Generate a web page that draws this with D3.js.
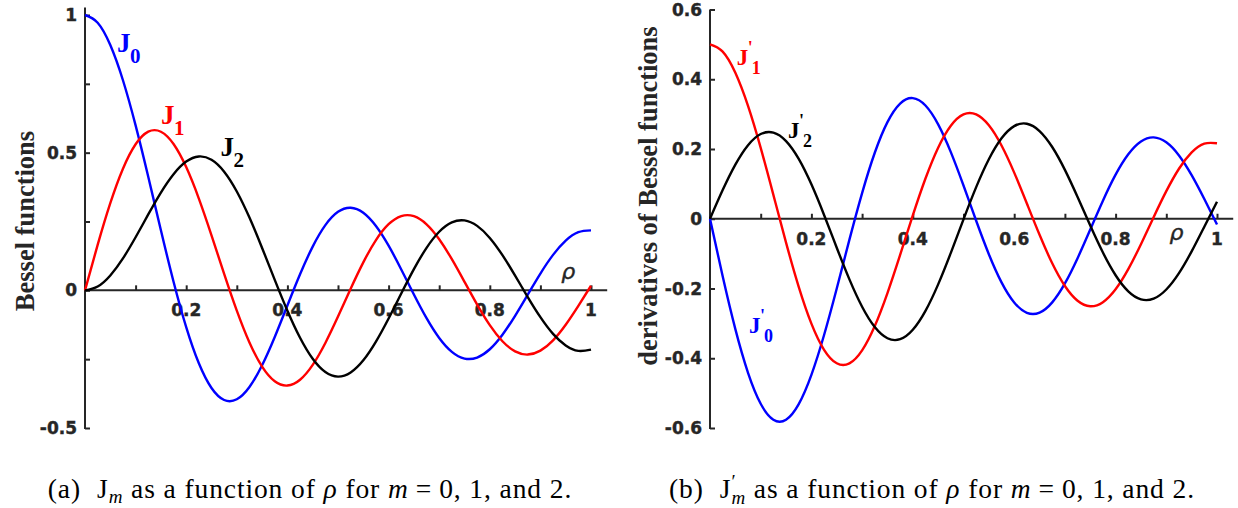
<!DOCTYPE html>
<html>
<head>
<meta charset="utf-8">
<style>
  body { margin: 0; background: #fff; }
</style>
</head>
<body>
<svg width="1238" height="508"></svg>
<script src="https://cdn.jsdelivr.net/npm/d3@7/dist/d3.min.js"></script>
<script>
// sample positions along rho (step 0.025)
var rho = [0, 0.025, 0.05, 0.075, 0.1, 0.125, 0.15, 0.175, 0.2, 0.225, 0.25, 0.275, 0.3, 0.325, 0.35, 0.375,
           0.4, 0.425, 0.45, 0.475, 0.5, 0.525, 0.55, 0.575, 0.6, 0.625, 0.65, 0.675, 0.7, 0.725, 0.75, 0.775,
           0.8, 0.825, 0.85, 0.875, 0.9, 0.925, 0.95, 0.975, 1];

// (a) Bessel functions
var j0 = [1, 0.9721, 0.8909, 0.7630, 0.5990, 0.4124, 0.2181, 0.0314, -0.1336, -0.2651, -0.3548, -0.3984, -0.3958, -0.3511, -0.2721, -0.1694,
          -0.0550, 0.0583, 0.1589, 0.2368, 0.2851, 0.3001, 0.2818, 0.2336, 0.1622, 0.0759, -0.0152, -0.1012, -0.1731, -0.2235, -0.2478, -0.2441,
          -0.2140, -0.1612, -0.0924, -0.0155, 0.0610, 0.1287, 0.1804, 0.2111, 0.2178];
var j1 = [0, 0.1652, 0.3166, 0.4417, 0.5305, 0.5762, 0.5761, 0.5315, 0.4476, 0.3334, 0.2000, 0.0600, -0.0736, -0.1892, -0.2770, -0.3303,
          -0.3459, -0.3247, -0.2707, -0.1911, -0.0953, 0.0058, 0.1016, 0.1824, 0.2401, 0.2698, 0.2693, 0.2398, 0.1855, 0.1131, 0.0309, -0.0519,
          -0.1265, -0.1850, -0.2218, -0.2333, -0.2191, -0.1815, -0.1249, -0.0564, 0.0166];
var j2 = [0, 0.0139, 0.0540, 0.1160, 0.1927, 0.2756, 0.3551, 0.4218, 0.4676, 0.4863, 0.4742, 0.4310, 0.3591, 0.2642, 0.1540, 0.0379,
          -0.0740, -0.1723, -0.2486, -0.2968, -0.3135, -0.2984, -0.2542, -0.1863, -0.1024, -0.0115, 0.0771, 0.1543, 0.2127, 0.2468, 0.2540, 0.2341,
          0.1904, 0.1278, 0.0535, -0.0243, -0.0973, -0.1580, -0.2000, -0.2197, -0.2153];

// (b) derivatives
var dj0 = [0, -0.1652, -0.3166, -0.4417, -0.5305, -0.5762, -0.5761, -0.5315, -0.4476, -0.3334, -0.2000, -0.0600, 0.0736, 0.1892, 0.2770, 0.3303,
           0.3459, 0.3247, 0.2707, 0.1911, 0.0953, -0.0058, -0.1016, -0.1824, -0.2401, -0.2698, -0.2693, -0.2398, -0.1855, -0.1131, -0.0309, 0.0519,
           0.1265, 0.1850, 0.2218, 0.2333, 0.2191, 0.1815, 0.1249, 0.0564, -0.0166];
var dj1 = [0.5, 0.4791, 0.4184, 0.3235, 0.2032, 0.0684, -0.0685, -0.1952, -0.3006, -0.3757, -0.4145, -0.4147, -0.3774, -0.3076, -0.2131, -0.1037,
           0.0095, 0.1153, 0.2038, 0.2668, 0.2993, 0.2992, 0.2680, 0.2100, 0.1323, 0.0437, -0.0461, -0.1278, -0.1929, -0.2352, -0.2509, -0.2391,
           -0.2022, -0.1445, -0.0730, 0.0044, 0.0791, 0.1434, 0.1902, 0.2154, 0.2165];
var dj2 = [0, 0.0822, 0.1552, 0.2109, 0.2429, 0.2471, 0.2228, 0.1717, 0.0987, 0.0109, -0.0831, -0.1739, -0.2523, -0.3105, -0.3426, -0.3454,
           -0.3183, -0.2642, -0.1882, -0.0978, -0.0017, 0.0907, 0.1706, 0.2307, 0.2656, 0.2725, 0.2516, 0.2057, 0.1402, 0.0623, -0.0196, -0.0970,
           -0.1620, -0.2082, -0.2312, -0.2292, -0.2029, -0.1560, -0.0935, -0.0228, 0.0488];

var xTicks = [0.1, 0.2, 0.3, 0.4, 0.5, 0.6, 0.7, 0.8, 0.9, 1];
var yTicksA = [-0.5, -0.25, 0, 0.25, 0.5, 0.75, 1];
var yTicksB = [-0.6, -0.4, -0.2, 0, 0.2, 0.4, 0.6];

var blue = "#0000ff", red = "#ff0000", black = "#000000", axisCol = "#262626";

var svg = d3.select("svg");

function tickLabel(g, x, y, anchor, str) {
    g.append("text").attr("x", x).attr("y", y).attr("text-anchor", anchor)
        .style("font-family", "'DejaVu Sans', sans-serif").style("font-weight", "bold")
        .style("font-size", "17px").style("fill", axisCol)
        .style("stroke", axisCol).style("stroke-width", 0.4).text(str);
}

function drawPanel(p) {
    var g = svg.append("g");
    var x = d3.scaleLinear().domain([0, 1]).range(p.xRange);
    var y = d3.scaleLinear().domain(p.yDomain).range(p.yRange);

    // axes cross at the origin, ticks point inward; tick marks from d3, labels drawn below
    var ya = g.append("g").attr("transform", "translate(" + x(0) + ",0)")
        .call(d3.axisLeft(y).tickValues(p.yTicks).tickSize(-5).tickFormat(""));
    var xa = g.append("g").attr("transform", "translate(0," + y(0) + ")")
        .call(d3.axisBottom(x).tickValues(xTicks).tickSize(-5).tickFormat(""));
    [ya, xa].forEach(function (a) {
        a.select(".domain").remove();
        a.selectAll(".tick line").attr("stroke", axisCol).attr("stroke-width", 2);
    });

    p.yTicks.forEach(function (d) {
        if ((d * 2) % 1 === 0 || p.allY) tickLabel(g, x(0) - 8, y(d) + 6, "end", String(d));
    });
    xTicks.forEach(function (d) {
        if (Math.round(d * 10) % 2 === 0) tickLabel(g, x(d), y(0) + 26, "middle", String(d));
    });

    g.append("line").attr("x1", x(0)).attr("x2", x(1.032)).attr("y1", y(0)).attr("y2", y(0))
        .attr("stroke", axisCol).attr("stroke-width", 2);
    g.append("line").attr("x1", x(0)).attr("x2", x(0)).attr("y1", y(p.yDomain[0]) + 1).attr("y2", y(p.yTop))
        .attr("stroke", axisCol).attr("stroke-width", 2);

    g.append("text").attr("x", x(p.rhoAt[0])).attr("y", y(p.rhoAt[1]))
        .attr("text-anchor", "middle")
        .style("font-family", "'DejaVu Sans', sans-serif").style("font-style", "italic")
        .style("font-size", "22px").style("fill", axisCol)
        .style("stroke", axisCol).style("stroke-width", 0.4).text("ρ");

    g.append("text")
        .attr("transform", "translate(" + p.yLabelPos[0] + "," + p.yLabelPos[1] + ") rotate(-90)")
        .attr("text-anchor", "middle")
        .style("font-family", "'Liberation Serif', serif").style("font-weight", "bold")
        .style("font-size", "26.5px").style("fill", axisCol).text(p.yLabel);

    var line = d3.line().x(d => x(d[0])).y(d => y(d[1])).curve(d3.curveNatural);
    p.series.forEach(function (s) {
        g.append("path").datum(d3.zip(rho, s.values))
            .attr("d", line).attr("fill", "none")
            .attr("stroke", s.color).attr("stroke-width", 2.4).attr("stroke-linejoin", "round");
    });

    // curve labels
    p.labels.forEach(function (l) {
        var lx = x(l.at[0]), ly = y(l.at[1]);
        var t = g.append("g").style("font-family", "'Liberation Serif', serif").style("font-weight", "bold")
            .style("fill", l.color);
        t.append("text").attr("x", lx).attr("y", ly).style("font-size", p.jSize + "px").text("J");
        if (p.prime) {
            t.append("text").attr("x", lx + p.primeOff[0]).attr("y", ly + p.primeOff[1])
                .style("font-size", p.subSize + "px").text("'");
        }
        t.append("text").attr("x", lx + p.subOff[0]).attr("y", ly + p.subOff[1])
            .style("font-size", p.subSize + "px").text(l.sub);
    });
}

drawPanel({
    xRange: [85, 591], yDomain: [-0.5, 1], yRange: [428, 15], yTop: 1.027,
    yTicks: yTicksA, allY: false,
    rhoAt: [0.955, 0.04],
    yLabel: "Bessel functions", yLabelPos: [34, 221],
    series: [{values: j0, color: blue}, {values: j1, color: red}, {values: j2, color: black}],
    jSize: 27, subSize: 21, prime: false, subOff: [13, 11],
    labels: [
        {sub: "0", at: [0.063, 0.866], color: blue},
        {sub: "1", at: [0.150, 0.604], color: red},
        {sub: "2", at: [0.268, 0.488], color: black}
    ]
});

drawPanel({
    xRange: [710, 1217], yDomain: [-0.6, 0.6], yRange: [428, 9.5], yTop: 0.6,
    yTicks: yTicksB, allY: true,
    rhoAt: [0.920, -0.062],
    yLabel: "derivatives of Bessel functions", yLabelPos: [657, 196],
    series: [{values: dj0, color: blue}, {values: dj1, color: red}, {values: dj2, color: black}],
    jSize: 23, subSize: 18, prime: true, primeOff: [11, -11], subOff: [15, 9],
    labels: [
        {sub: "1", at: [0.053, 0.441], color: red},
        {sub: "2", at: [0.154, 0.232], color: black},
        {sub: "0", at: [0.077, -0.328], color: blue}
    ]
});

// captions
function caption(cx, tag, prime) {
    var t = svg.append("text").attr("x", cx).attr("y", 498).attr("text-anchor", "middle")
        .style("font-family", "'Liberation Serif', serif").style("font-size", "27.5px")
        .style("letter-spacing", "0.9px").style("fill", "#000");
    t.append("tspan").text("(" + tag + ")");
    t.append("tspan").attr("dx", 16).text("J");
    if (prime) {
        t.append("tspan").attr("dy", -10).style("font-size", "19px").text("′");
        t.append("tspan").attr("dx", -5).attr("dy", 16).style("font-size", "19px").style("font-style", "italic").text("m");
        t.append("tspan").attr("dy", -6).text(" as a function of ");
    } else {
        t.append("tspan").attr("dy", 5).style("font-size", "19px").style("font-style", "italic").text("m");
        t.append("tspan").attr("dy", -5).text(" as a function of ");
    }
    t.append("tspan").style("font-style", "italic").text("ρ");
    t.append("tspan").text(" for ");
    t.append("tspan").style("font-style", "italic").text("m");
    t.append("tspan").attr("dx", 7).text("=");
    t.append("tspan").attr("dx", 7).text("0, 1, and 2.");
}
caption(310, "a", false);
caption(932, "b", true);
</script>
</body>
</html>
